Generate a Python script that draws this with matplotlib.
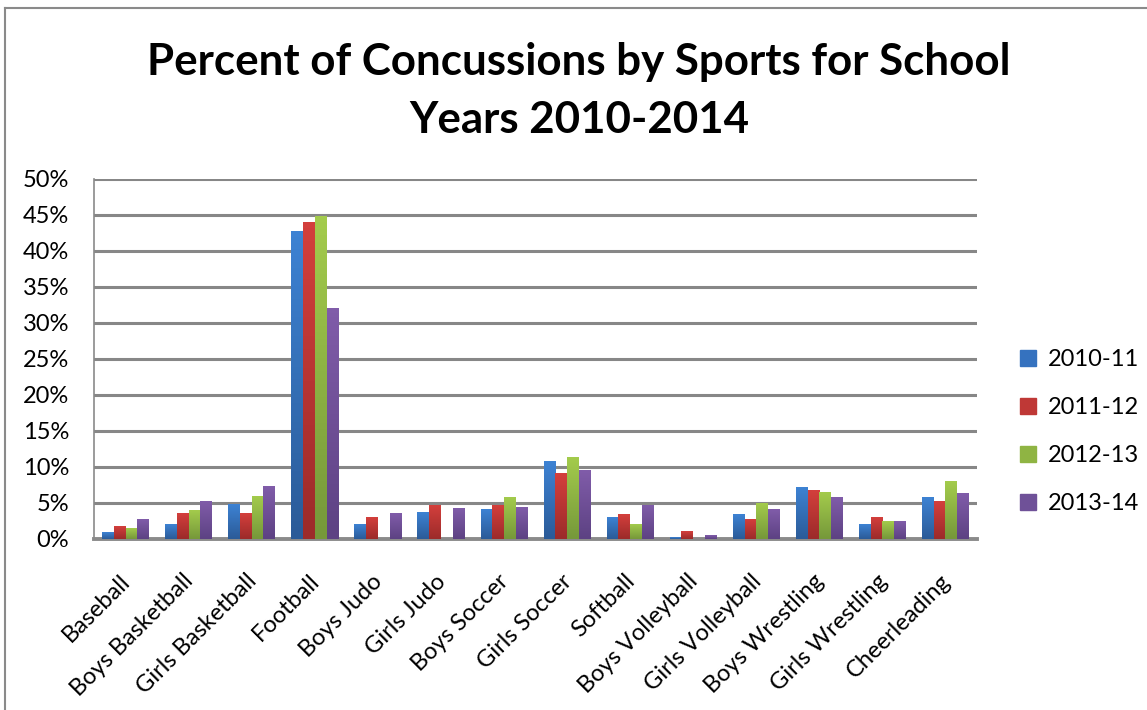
import matplotlib.pyplot as plt
from matplotlib.colors import LinearSegmentedColormap
from matplotlib.lines import Line2D
import matplotlib.transforms as mtransforms
import numpy as np

plt.rcParams['font.family'] = ['Lato', 'DejaVu Sans']

sports = ["Baseball", "Boys Basketball", "Girls Basketball", "Football", "Boys Judo",
          "Girls Judo", "Boys Soccer", "Girls Soccer", "Softball", "Boys Volleyball",
          "Girls Volleyball", "Boys Wrestling", "Girls Wrestling", "Cheerleading"]
years = ["2010-11", "2011-12", "2012-13", "2013-14"]

y2010 = [0.9, 2.0, 4.8, 42.8, 2.0, 3.7, 4.1, 10.8, 3.0, 0.2, 3.4, 7.2, 2.0, 5.8]
y2011 = [1.7, 3.6, 3.6, 44.0, 3.0, 4.7, 4.7, 9.1, 3.4, 1.0, 2.7, 6.7, 3.0, 5.2]
y2012 = [1.5, 3.9, 5.9, 44.9, 0.0, 0.0, 5.8, 11.3, 2.0, 0.0, 4.9, 6.5, 2.4, 8.0]
y2013 = [2.7, 5.2, 7.3, 32.1, 3.5, 4.2, 4.4, 9.5, 4.6, 0.45, 4.1, 5.8, 2.4, 6.3]
series = [y2010, y2011, y2012, y2013]

# (top colour, bottom colour) for the excel-like gradient
grads = [("#3d82d3", "#2b5b98"), ("#d33f3c", "#9c2b2a"),
         ("#a3cb4c", "#76983a"), ("#805ca9", "#5d4283")]
legend_cols = ["#3572bf", "#bf3836", "#8fb443", "#6f5198"]

fig = plt.figure(figsize=(11.47, 7.10), dpi=100)
ax = fig.add_axes([0.082, 0.2415, 0.7698, 0.5065])

x = np.arange(len(sports))
w = 0.186
for i, vals in enumerate(series):
    bars = ax.bar(x + (i - 1.5) * w, vals, w, color=legend_cols[i], label=years[i], zorder=3)
    cmap = LinearSegmentedColormap.from_list("g%d" % i, [grads[i][1], grads[i][0]])
    for b in bars:
        h = b.get_height()
        if h <= 0:
            continue
        bx = b.get_x()
        im = ax.imshow(np.linspace(0, 1, 50).reshape(-1, 1), cmap=cmap, origin='lower',
                       extent=[bx, bx + w, 0, h], aspect='auto', zorder=4)
        im.set_clip_path(b)

ax.set_xlim(-0.5, len(sports) - 0.5)
ax.set_ylim(0, 50)
ax.set_yticks(range(0, 51, 5))
ax.set_yticklabels(["%d%%" % v for v in range(0, 51, 5)])
ax.yaxis.grid(True, color="#878787", linewidth=2.2, zorder=0)
ax.set_axisbelow(True)
ax.tick_params(axis='y', length=0, pad=18, labelsize=17)
ax.set_xticks(x)
ax.set_xticklabels(sports, rotation=45, ha='right', rotation_mode='anchor', fontsize=17)
ax.tick_params(axis='x', length=0, pad=23)
shift = mtransforms.ScaledTranslation(-6 / 100, 0, fig.dpi_scale_trans)
for lab in ax.get_xticklabels():
    lab.set_transform(lab.get_transform() + shift)
for s in ['top', 'right']:
    ax.spines[s].set_visible(False)
ax.spines['left'].set_color("#8a8a8a")
ax.spines['left'].set_linewidth(1.2)
ax.spines['bottom'].set_color("#8a8a8a")
ax.spines['bottom'].set_linewidth(2.8)

handles = [plt.Rectangle((0, 0), 1, 1, color=c) for c in legend_cols]
fig.legend(handles, years, loc='center left', bbox_to_anchor=(0.871, 0.392),
           frameon=False, fontsize=17, handlelength=0.65, handleheight=0.65,
           handletextpad=0.5, labelspacing=1.15)

fig.text(0.505, 0.872, "Percent of Concussions by Sports for School\nYears 2010-2014",
         ha='center', va='center', fontsize=31.6, fontweight='bold', linespacing=1.55)

# outer chart border (top and left only visible)
fig.add_artist(Line2D([5 / 1147, 1], [1 - 8 / 710, 1 - 8 / 710], color="#8a8a8a", linewidth=1.5))
fig.add_artist(Line2D([5 / 1147, 5 / 1147], [0, 1 - 8 / 710], color="#8a8a8a", linewidth=1.5))

fig.savefig("out.png", dpi=100)
